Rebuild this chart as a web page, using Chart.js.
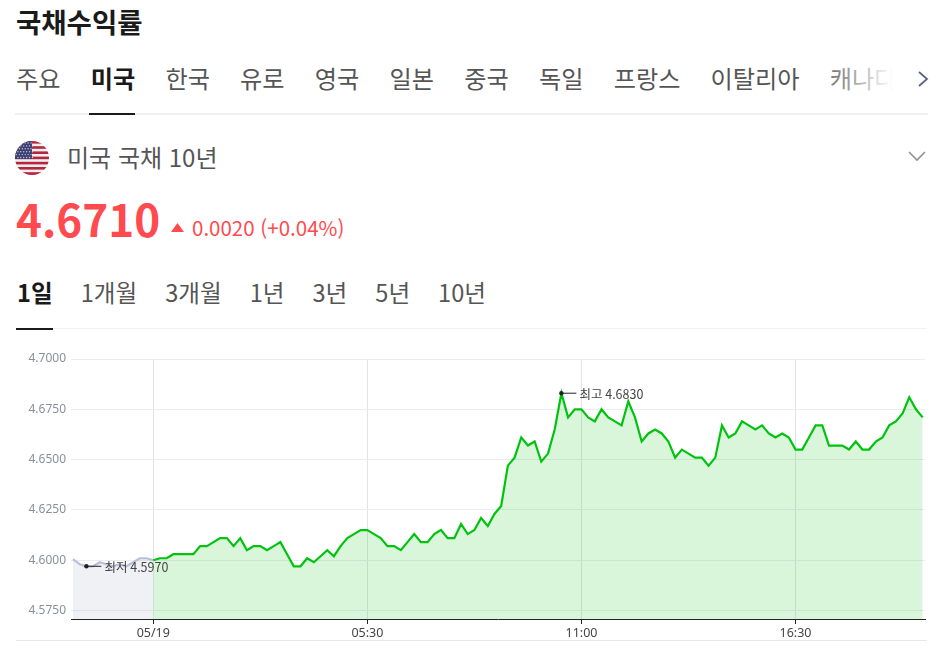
<!DOCTYPE html>
<html lang="ko">
<head>
<meta charset="utf-8">
<title>국채수익률</title>
<script src="https://cdn.jsdelivr.net/npm/chart.js@4"></script>
<style>
  html, body { margin: 0; padding: 0; background: #fff; overflow: hidden; }
  body { width: 936px; height: 649px; position: relative; font-family: "Noto Sans CJK KR", "Noto Sans", sans-serif; color: #555; }
  .abs { position: absolute; white-space: nowrap; }
  #title { left: 16px; top: 3px; font-size: 27.5px; line-height: 36px; font-weight: 700; color: #1a1a1a; }
  #tabs { left: 16px; top: 60px; width: 900px; display: flex; gap: 30.2px; font-size: 24.2px; line-height: 36px; overflow: hidden; }
  #fade { left: 828px; top: 60px; width: 72px; height: 40px; background: linear-gradient(to right, rgba(255,255,255,.15), #fff 90%); }
  #tabs .on { font-weight: 700; color: #1a1a1a; }
  .rule { height: 2px; background: #f0f0f2; }
  #bond { left: 67px; top: 139px; font-size: 24px; line-height: 36px; color: #555; }
  #price { left: 16px; top: 185px; font-size: 44px; line-height: 66px; font-weight: 700; color: #ff4a4f; }
  #change { left: 192px; top: 211px; font-size: 20.5px; line-height: 32px; color: #ff4a4f; }
  #ranges { left: 17px; top: 274px; display: flex; gap: 28px; font-size: 23.6px; line-height: 36px; }
  #ranges .on { font-weight: 700; color: #1a1a1a; }
  #chartBox { left: 0; top: 340px; width: 936px; height: 300px; }
</style>
</head>
<body>
<div class="abs" id="title">국채수익률</div>
<div class="abs" id="tabs"></div>
<div class="abs" id="fade"></div>
<svg class="abs" style="left:916px;top:70px" width="16" height="18"><path d="M3 2 L11 9 L3 16" fill="none" stroke="#5a6488" stroke-width="1.8"/></svg>
<div class="abs rule" style="left:15px;top:113px;width:913px"></div>
<div class="abs" style="left:89px;top:113px;width:46px;height:2px;background:#1a1a1a"></div>

<svg class="abs" style="left:15px;top:141px" width="34" height="34" viewBox="0 0 34 34">
  <defs><clipPath id="round"><circle cx="17" cy="17" r="17"/></clipPath></defs>
  <g clip-path="url(#round)">
    <rect width="34" height="34" fill="#eee"/>
    <g fill="#b5263f">
      <rect y="0" width="34" height="2.6"/><rect y="5.2" width="34" height="2.6"/><rect y="10.4" width="34" height="2.6"/>
      <rect y="15.6" width="34" height="2.6"/><rect y="20.8" width="34" height="2.6"/><rect y="26" width="34" height="2.6"/><rect y="31.2" width="34" height="2.8"/>
    </g>
    <rect width="17" height="18" fill="#3c3f72"/>
    <g fill="#ccd" id="stars"></g>
  </g>
</svg>
<div class="abs" id="bond">미국 국채 10년</div>
<svg class="abs" style="left:908px;top:150px" width="18" height="12"><path d="M1 2 L9 10 L17 2" fill="none" stroke="#8f9094" stroke-width="1.6"/></svg>
<div class="abs" id="price">4.6710</div>
<svg class="abs" style="left:171px;top:223px" width="13" height="10"><path d="M6.5 0 L13 9 L0 9 Z" fill="#ff4a4f"/></svg>
<div class="abs" id="change">0.0020 (+0.04%)</div>
<div class="abs" id="ranges"></div>
<div class="abs" style="left:16px;top:328px;width:911px;height:1px;background:#f1f1f3"></div>
<div class="abs" style="left:16px;top:328px;width:37px;height:2px;background:#1a1a1a"></div>

<div class="abs" id="chartBox"><canvas id="chart"></canvas></div>
<div class="abs" style="left:16px;top:640px;width:911px;height:1px;background:#e8e8ea"></div>

<script>
const tabNames = ["주요", "미국", "한국", "유로", "영국", "일본", "중국", "독일", "프랑스", "이탈리아", "캐나다"];
const rangeNames = ["1일", "1개월", "3개월", "1년", "3년", "5년", "10년"];

// previous session, drawn grey up to the 05/19 open
const prevValues = [4.6005, 4.598, 4.597, 4.597, 4.599, 4.598, 4.597, 4.598, 4.597, 4.599, 4.601, 4.601, 4.600];

const currValues = [
  4.600, 4.601, 4.601, 4.603, 4.603, 4.603, 4.603, 4.607, 4.607, 4.609,
  4.611, 4.611, 4.607, 4.611, 4.605, 4.607, 4.607, 4.605, 4.607, 4.609,
  4.603, 4.597, 4.597, 4.601, 4.599, 4.602, 4.605, 4.602, 4.607, 4.611,
  4.613, 4.615, 4.615, 4.613, 4.611, 4.607, 4.607, 4.605, 4.609, 4.613,
  4.609, 4.609, 4.613, 4.615, 4.611, 4.611, 4.618, 4.613, 4.615, 4.621,
  4.617, 4.623, 4.627, 4.647, 4.651, 4.661, 4.657, 4.659, 4.649, 4.653,
  4.665, 4.683, 4.671, 4.675, 4.675, 4.671, 4.669, 4.675, 4.671, 4.669,
  4.667, 4.679, 4.671, 4.659, 4.663, 4.665, 4.663, 4.659, 4.651, 4.655,
  4.653, 4.651, 4.651, 4.647, 4.651, 4.667, 4.661, 4.663, 4.669, 4.667,
  4.665, 4.667, 4.663, 4.661, 4.663, 4.661, 4.655, 4.655, 4.661, 4.667,
  4.667, 4.657, 4.657, 4.657, 4.655, 4.659, 4.655, 4.655, 4.659, 4.661,
  4.667, 4.669, 4.673, 4.681, 4.675, 4.671
];

const yTicks = [4.575, 4.6, 4.625, 4.65, 4.675, 4.7];
const xTickLabels = ["05/19", "05:30", "11:00", "16:30"];
const xTickSlots = [12, 44, 76, 108];

document.getElementById("tabs").innerHTML = tabNames
  .map((t) => `<span class="${t === "미국" ? "on" : ""}">${t}</span>`).join("");
document.getElementById("ranges").innerHTML = rangeNames
  .map((t) => `<span class="${t === "1일" ? "on" : ""}">${t}</span>`).join("");

// flag stars
let stars = "";
for (let r = 0; r < 6; r++) {
  for (let c = 0; c < 6; c++) {
    stars += `<circle cx="${1.5 + c * 2.9 + (r % 2) * 1.4}" cy="${2 + r * 2.9}" r=".7"/>`;
  }
}
document.getElementById("stars").innerHTML = stars;

const toPoints = (values, start) => values.map((y, i) => ({ x: start + i, y: y }));
const prevPoints = toPoints(prevValues, 0);
const currPoints = toPoints(currValues, prevValues.length - 1);
const allPoints = prevPoints.concat(currPoints);

const lowPoint = allPoints.reduce((a, b) => (b.y < a.y ? b : a));
const highPoint = allPoints.reduce((a, b) => (b.y > a.y ? b : a));

const calloutPlugin = {
  id: "callouts",
  afterDatasetsDraw(chart) {
    const { ctx, scales } = chart;
    [["최저", lowPoint], ["최고", highPoint]].forEach(([name, p]) => {
      const px = scales.x.getPixelForValue(p.x);
      const py = scales.y.getPixelForValue(p.y);
      ctx.save();
      ctx.strokeStyle = "#222";
      ctx.lineWidth = 1;
      ctx.beginPath();
      ctx.moveTo(px, py);
      ctx.lineTo(px + 15, py);
      ctx.stroke();
      ctx.fillStyle = "#444";
      ctx.font = '12.5px "Noto Sans CJK KR", sans-serif';
      ctx.textBaseline = "middle";
      ctx.fillText(name + " " + p.y.toFixed(4), px + 18, py + 1);
      ctx.restore();
    });
  },
};

new Chart(document.getElementById("chart"), {
  type: "line",
  data: {
    datasets: [
      {
        data: [lowPoint, highPoint],
        showLine: false,
        pointRadius: 2.2,
        pointBackgroundColor: "#222",
        pointBorderWidth: 0,
      },
      {
        data: currPoints,
        borderColor: "#00c30f",
        borderWidth: 2.2,
        backgroundColor: "rgba(0,195,10,0.15)",
        fill: "start",
        pointRadius: 0,
      },
      {
        data: prevPoints,
        borderColor: "#b9bfdb",
        borderWidth: 2.2,
        backgroundColor: "rgba(130,140,175,0.12)",
        fill: "start",
        pointRadius: 0,
      },
    ],
  },
  options: {
    responsive: true,
    maintainAspectRatio: false,
    animation: false,
    layout: { padding: { top: 19, right: 11, left: 0, bottom: 0 } },
    plugins: { legend: { display: false }, tooltip: { enabled: false } },
    scales: {
      x: {
        type: "linear",
        min: -0.3,
        max: 127.35,
        afterBuildTicks: (axis) => {
          axis.ticks = xTickSlots.map((v) => ({ value: v }));
        },
        afterFit: (axis) => {
          axis.height = 21;
        },
        grid: { color: "#e0e3ea", tickColor: "#222", tickLength: 5 },
        border: { color: "#222" },
        ticks: {
          autoSkip: false,
          maxRotation: 0,
          padding: 2,
          color: "#444",
          font: { family: '"Noto Sans", sans-serif', size: 12.5 },
          callback: (v) => xTickLabels[xTickSlots.indexOf(v)],
        },
      },
      y: {
        min: 4.5708,
        max: 4.7,
        afterBuildTicks: (axis) => {
          axis.ticks = yTicks.map((v) => ({ value: v }));
        },
        afterFit: (axis) => {
          axis.width = 71;
        },
        grid: { color: "#ecedf0", tickLength: 0 },
        border: { display: false },
        ticks: {
          padding: 5,
          color: "#8b8f9a",
          font: { family: '"Noto Sans", sans-serif', size: 12 },
          callback: (v) => v.toFixed(4),
        },
      },
    },
  },
  plugins: [calloutPlugin],
});
</script>
</body>
</html>
